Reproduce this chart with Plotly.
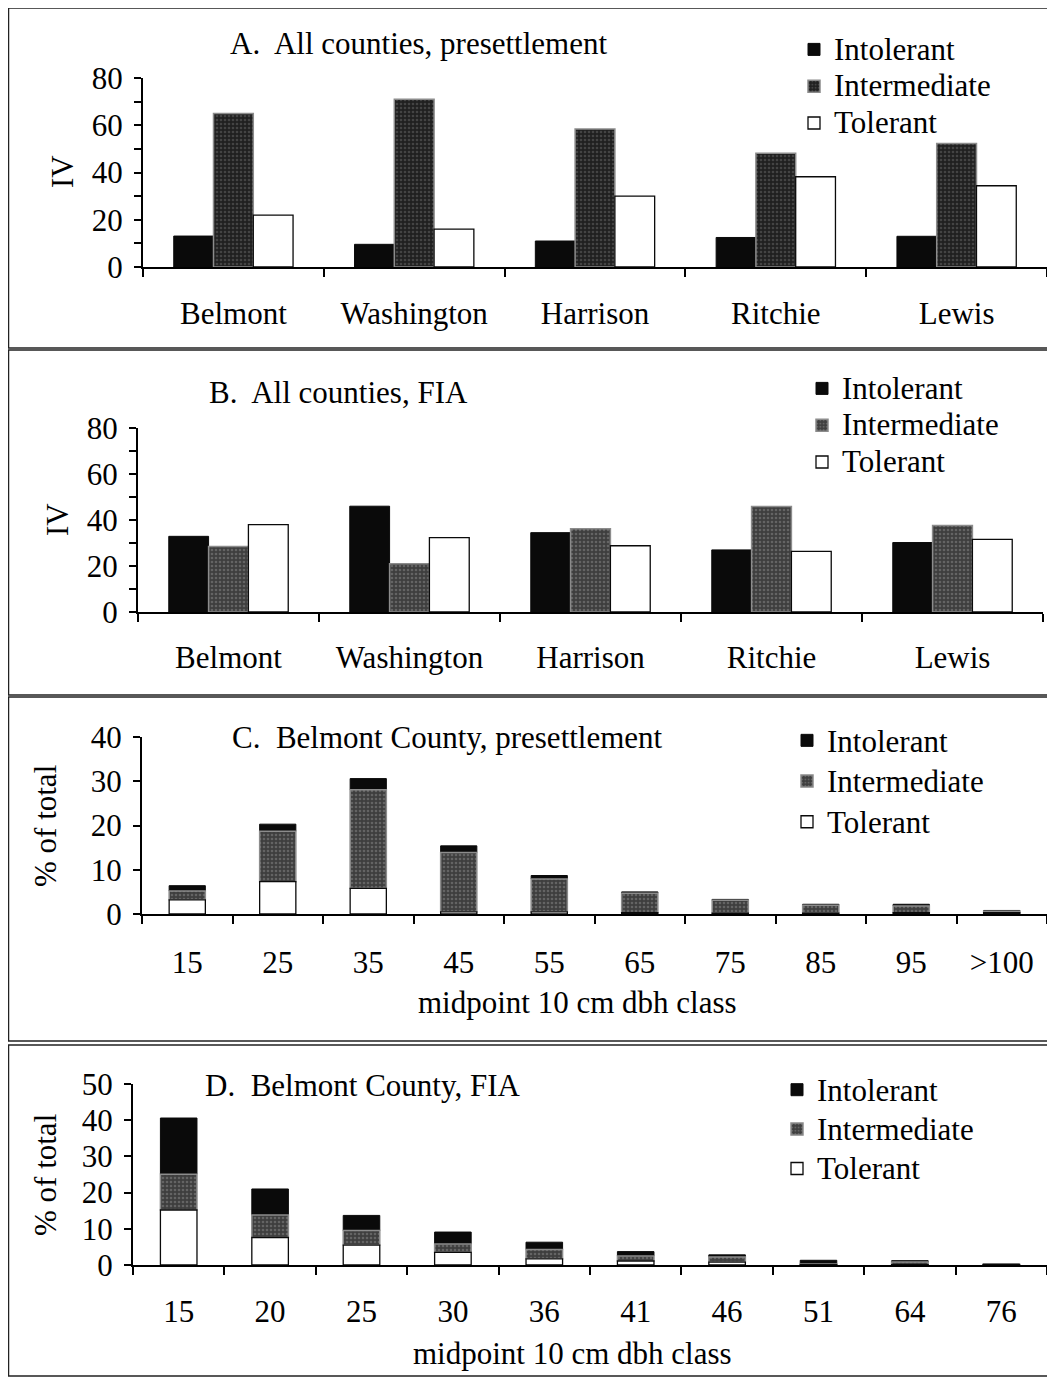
import plotly.graph_objects as go

# page has an 8px body margin, so the figure is sized to fit the window exactly
OFF = 8
W, H = 1055 - 2 * OFF, 1385 - 2 * OFF
FONT = "Liberation Serif"
FS = 31

# ---------------- data ----------------
counties = ["Belmont", "Washington", "Harrison", "Ritchie", "Lewis"]
presettle_intolerant = [13.1, 9.6, 11.0, 12.5, 13.0]
presettle_intermediate = [65.0, 71.0, 58.4, 48.2, 52.3]
presettle_tolerant = [22.0, 16.0, 30.0, 38.2, 34.4]

fia_intolerant = [32.9, 46.0, 34.5, 27.0, 30.2]
fia_intermediate = [28.5, 21.0, 36.2, 45.9, 37.6]
fia_tolerant = [38.0, 32.3, 28.8, 26.4, 31.6]

classes_c = ["15", "25", "35", "45", "55", "65", "75", "85", "95", ">100"]
c_tolerant = [3.2, 7.3, 5.8, 0.5, 0.5, 0.3, 0.2, 0.2, 0.3, 0.3]
c_intermediate = [2.0, 11.4, 22.3, 13.4, 7.4, 4.4, 2.9, 1.8, 1.5, 0.3]
c_intolerant = [1.2, 1.6, 2.5, 1.5, 0.8, 0.3, 0.2, 0.2, 0.4, 0.2]

classes_d = ["15", "20", "25", "30", "36", "41", "46", "51", "64", "76"]
d_tolerant = [15.2, 7.6, 5.5, 3.5, 1.7, 1.1, 0.8, 0.1, 0.1, 0.1]
d_intermediate = [9.9, 6.2, 4.0, 2.3, 2.6, 1.4, 1.4, 0.2, 0.7, 0.1]
d_intolerant = [15.5, 7.2, 4.2, 3.3, 2.0, 1.2, 0.6, 1.0, 0.4, 0.1]

series_names = ["Intolerant", "Intermediate", "Tolerant"]


def px(x):
    return (x - OFF) / W


def py(y):
    return 1 - (y - OFF) / H


def lname(n):
    # legend text drawn at full size while the row spacing follows the legend font
    return '<span style="font-size:%dpx">%s</span>' % (FS, n)


fig = go.Figure()

BLACK = "#0a0a0a"


def inter_marker(bg, fg):
    return dict(color=bg, line=dict(color="#8c8c8c", width=1.5),
                pattern=dict(shape=".", bgcolor=bg, fgcolor=fg, size=4, solidity=0.35))


solid_black = dict(color=BLACK, line=dict(color=BLACK, width=1))
white_fill = dict(color="white", line=dict(color=BLACK, width=1.3))

# Panel A
fig.add_trace(go.Bar(x=counties, y=presettle_intolerant, name=lname(series_names[0]), marker=solid_black,
                     xaxis="x", yaxis="y", legend="legend"))
fig.add_trace(go.Bar(x=counties, y=presettle_intermediate, name=lname(series_names[1]),
                     marker=inter_marker("#202020", "#686868"), xaxis="x", yaxis="y", legend="legend"))
fig.add_trace(go.Bar(x=counties, y=presettle_tolerant, name=lname(series_names[2]), marker=white_fill,
                     xaxis="x", yaxis="y", legend="legend"))

# Panel B
fig.add_trace(go.Bar(x=counties, y=fia_intolerant, name=lname(series_names[0]), marker=solid_black,
                     xaxis="x2", yaxis="y2", legend="legend2"))
fig.add_trace(go.Bar(x=counties, y=fia_intermediate, name=lname(series_names[1]),
                     marker=inter_marker("#3e3e3e", "#8a8a8a"), xaxis="x2", yaxis="y2", legend="legend2"))
fig.add_trace(go.Bar(x=counties, y=fia_tolerant, name=lname(series_names[2]), marker=white_fill,
                     xaxis="x2", yaxis="y2", legend="legend2"))


def stacked(cats, tol, inter, intol, xa, ya, leg):
    base_inter = list(tol)
    base_intol = [a + b for a, b in zip(tol, inter)]
    common = dict(x=cats, xaxis=xa, yaxis=ya, legend=leg, width=0.4, offset=-0.2)
    fig.add_trace(go.Bar(y=intol, base=base_intol, name=lname(series_names[0]), marker=solid_black, **common))
    fig.add_trace(go.Bar(y=inter, base=base_inter, name=lname(series_names[1]),
                         marker=inter_marker("#3e3e3e", "#8a8a8a"), **common))
    fig.add_trace(go.Bar(y=tol, base=[0] * len(tol), name=lname(series_names[2]), marker=white_fill, **common))


stacked(classes_c, c_tolerant, c_intermediate, c_intolerant, "x3", "y3", "legend3")
stacked(classes_d, d_tolerant, d_intermediate, d_intolerant, "x4", "y4", "legend4")

tickfont = dict(family=FONT, size=FS, color="black")


def xaxis(dom, anchor, cats, standoff):
    return dict(domain=dom, anchor=anchor, type="category", categoryorder="array", categoryarray=cats,
                showline=True, linecolor="black", linewidth=2, ticks="outside", tickson="boundaries",
                ticklen=8, tickwidth=2, tickcolor="black", tickfont=tickfont, ticklabelstandoff=standoff,
                showgrid=False, zeroline=False, fixedrange=True, automargin=False)


def yaxis(dom, anchor, rng, dtick, minor):
    d = dict(domain=dom, anchor=anchor, range=rng, dtick=dtick, tick0=0, showline=True, linecolor="black",
             linewidth=2, ticks="outside", ticklen=7, tickwidth=2, tickcolor="black", tickfont=tickfont,
             showgrid=False, zeroline=False, ticklabelstandoff=5, automargin=False, fixedrange=True)
    if minor:
        d["minor"] = dict(dtick=10, tick0=0, ticks="outside", ticklen=7, tickwidth=2, tickcolor="black",
                          showgrid=False)
    return d


fig.update_layout(
    width=W, height=H, margin=dict(l=0, r=0, t=0, b=0, pad=0, autoexpand=False),
    paper_bgcolor="white", plot_bgcolor="white",
    barmode="group", bargap=0.34, bargroupgap=0.0,
    font=dict(family=FONT, size=FS, color="black"),
    xaxis=xaxis([px(143), px(1047)], "y", counties, 18),
    yaxis=yaxis([py(267), py(78)], "x", [0, 80], 20, True),
    xaxis2=xaxis([px(138), px(1043)], "y2", counties, 17),
    yaxis2=yaxis([py(612), py(428)], "x2", [0, 80], 20, True),
    xaxis3=xaxis([px(142), px(1047)], "y3", classes_c, 20),
    yaxis3=yaxis([py(914), py(737)], "x3", [0, 40], 10, False),
    xaxis4=xaxis([px(133), px(1047)], "y4", classes_d, 18),
    yaxis4=yaxis([py(1265), py(1084)], "x4", [0, 50], 10, False),
)

# (legend, left px, top px, font size that sets the row spacing)
for name, lx, ly, lfs in [("legend", 794, 26, 26), ("legend2", 802, 365, 26),
                          ("legend3", 787, 715, 29), ("legend4", 777, 1065, 28)]:
    fig.update_layout({name: dict(x=px(lx), y=py(ly), xanchor="left", yanchor="top",
                                  font=dict(family=FONT, size=lfs, color="black"),
                                  bgcolor="rgba(0,0,0,0)", borderwidth=0, traceorder="normal",
                                  tracegroupgap=0, itemclick=False, itemdoubleclick=False)})

ann = []
titles = [("A.\u00a0 All counties, presettlement", 228, 44),
          ("B.\u00a0 All counties, FIA", 207, 392),
          ("C.\u00a0 Belmont County, presettlement", 230, 738),
          ("D.\u00a0 Belmont County, FIA", 203, 1085)]
for t, x, y in titles:
    ann.append(dict(text=t, x=px(x), y=py(y), xref="paper", yref="paper", xanchor="left", yanchor="middle",
                    showarrow=False, font=dict(family=FONT, size=FS, color="black")))
for t, x, y in [("IV", 62, 172), ("IV", 57, 520), ("% of total", 45, 826), ("% of total", 45, 1175)]:
    ann.append(dict(text=t, x=px(x), y=py(y), xref="paper", yref="paper", xanchor="center", yanchor="middle",
                    textangle=-90, showarrow=False, font=dict(family=FONT, size=FS, color="black")))
for t, x, y in [("midpoint 10 cm dbh class", 577, 1002), ("midpoint 10 cm dbh class", 572, 1353)]:
    ann.append(dict(text=t, x=px(x), y=py(y), xref="paper", yref="paper", xanchor="center", yanchor="middle",
                    showarrow=False, font=dict(family=FONT, size=FS, color="black")))
fig.update_layout(annotations=ann)

shapes = []
for y0, y1 in [(8, 348), (350, 695), (697, 1041), (1045, 1376)]:
    shapes.append(dict(type="rect", xref="paper", yref="paper", x0=px(8.5), x1=px(1070), y0=py(y1), y1=py(y0),
                       line=dict(color="#222", width=1.5), fillcolor="rgba(0,0,0,0)", layer="below"))
fig.update_layout(shapes=shapes)

fig.write_html("out.html")
